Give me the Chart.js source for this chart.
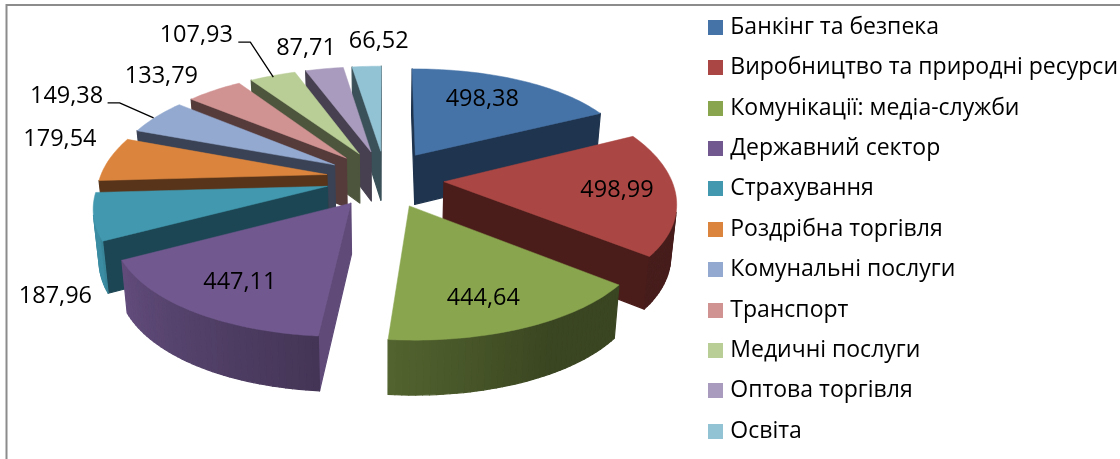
<!DOCTYPE html>
<html lang="uk">
<head>
<meta charset="utf-8">
<title>Розподіл за галузями</title>
<script src="https://cdn.jsdelivr.net/npm/chart.js@4"></script>
<style>
  html, body { margin: 0; padding: 0; background: #fff; overflow: hidden; }
  #wrap { width: 1120px; height: 459px; overflow: hidden; }
  #box { width: 1120px; height: 480px; position: relative; }
</style>
</head>
<body>
<div id="wrap"><div id="box"><canvas id="pieChart"></canvas></div></div>
<script>
const categories = ['Банкінг та безпека', 'Виробництво та природні ресурси', 'Комунікації: медіа-служби', 'Державний сектор', 'Страхування', 'Роздрібна торгівля', 'Комунальні послуги', 'Транспорт', 'Медичні послуги', 'Оптова торгівля', 'Освіта'];
const values = [498.38, 498.99, 444.64, 447.11, 187.96, 179.54, 149.38, 133.79, 107.93, 87.71, 66.52];
const topColors = ['#4572A7', '#AA4643', '#89A54E', '#71588F', '#4198AF', '#DB843D', '#93A9CF', '#D19392', '#B9CD96', '#A99BBD', '#92C3D4'];
const cutColors = ['#1F344E', '#4A1C1A', '#3A451F', '#5F4A78', '#1D4654', '#57341A', '#3A4255', '#563B3B', '#4D563C', '#464050', '#3B5159'];

// Смещения подписей от вершины сектора
const labelOffsets = [[67, -56], [173, 9], [74, 92], [-111, 79], [-272, 110], [-267, -35], [-268, -69], [-185, -82], [-163, -119], [-65, -104], [-2, -110]];
const leaderLines = {
  6: [[-227, -62], [-215, -62], [-181, -47]],
  8: [[-121, -112], [-109, -112], [-86, -77]]
};

// Параметры псевдо-3D проекции
const view = { cx: 385, cy: 178.7, rx: 233, ry: 110, bend: 16.4, explode: 0.26, depth: 50 };

function project(u, q, h) {
  const g = 0.975 + 0.15 * q + 0.035 * q * q;
  let x = view.cx + view.rx * u * g;
  let y = view.cy + view.ry * q + view.bend * q * q;
  if (h) {
    x = view.cx + (x - view.cx) * 0.98;
    y += view.depth * (1 + 0.08 * q);
  }
  return [x, y];
}

function mixColor(hex, t) {
  const n = parseInt(hex.slice(1), 16);
  const r = Math.round((n >> 16) * t);
  const g = Math.round(((n >> 8) & 255) * t);
  const b = Math.round((n & 255) * t);
  return 'rgb(' + r + ',' + g + ',' + b + ')';
}

// Яркость боковой стенки зависит от угла
function rimShade(deg) {
  if (deg <= 150) return 0.42;
  if (deg <= 185) return 0.42 + (deg - 150) / 35 * 0.18;
  if (deg <= 245) return 0.6 + (deg - 185) / 60 * 0.28;
  return 0.93;
}

function fillPoly(ctx, pts, color, width) {
  ctx.beginPath();
  pts.forEach((p, i) => i ? ctx.lineTo(p[0], p[1]) : ctx.moveTo(p[0], p[1]));
  ctx.closePath();
  ctx.fillStyle = color;
  ctx.strokeStyle = color;
  ctx.lineWidth = width;
  ctx.lineJoin = 'round';
  ctx.fill();
  ctx.stroke();
}

function polyArea(pts) {
  let s = 0;
  pts.forEach((p, i) => {
    const n = pts[(i + 1) % pts.length];
    s += p[0] * n[1] - n[0] * p[1];
  });
  return s;
}

function drawWall(ctx, a, b, color) {
  const q = [project(a[0], a[1], 0), project(b[0], b[1], 0), project(b[0], b[1], 1), project(a[0], a[1], 1)];
  if (polyArea(q) < 0) fillPoly(ctx, q, color, 1.2);
}

function sliceGeometry(arc) {
  const a0 = arc.startAngle + Math.PI / 2;
  const a1 = arc.endAngle + Math.PI / 2;
  const mid = (a0 + a1) / 2;
  const ou = view.explode * Math.sin(mid);
  const oq = -view.explode * Math.cos(mid);
  const rim = [];
  const steps = Math.max(4, Math.round((a1 - a0) * 40));
  for (let i = 0; i <= steps; i++) {
    const a = a0 + (a1 - a0) * i / steps;
    rim.push({ u: ou + Math.sin(a), q: oq - Math.cos(a), deg: a * 180 / Math.PI });
  }
  return { apex: [ou, oq], rim: rim };
}

function drawSlice(ctx, geo, i) {
  const apex = geo.apex;
  const rim = geo.rim;
  const first = rim[0];
  const last = rim[rim.length - 1];
  drawWall(ctx, apex, [first.u, first.q], cutColors[i]);
  drawWall(ctx, [last.u, last.q], apex, cutColors[i]);
  for (let k = 0; k < rim.length - 1; k++) {
    const deg = (rim[k].deg + rim[k + 1].deg) / 2;
    drawWall(ctx, [rim[k].u, rim[k].q], [rim[k + 1].u, rim[k + 1].q], mixColor(topColors[i], rimShade(deg)));
  }
  const top = [project(apex[0], apex[1], 0)].concat(rim.map(p => project(p.u, p.q, 0)));
  fillPoly(ctx, top, topColors[i], 0.5);
}

// Квадрат легенды как картинка, чтобы текст стоял ближе к нему
function makeSwatch(color) {
  const c = document.createElement('canvas');
  c.width = 15;
  c.height = 15;
  const g = c.getContext('2d');
  g.fillStyle = color;
  g.fillRect(0, 0, 15, 15);
  return c;
}

const pie3d = {
  id: 'pie3d',
  beforeDraw(chart) {
    // Рамка видна только сверху и слева
    const ctx = chart.ctx;
    ctx.save();
    ctx.strokeStyle = '#8C8C8C';
    ctx.lineWidth = 2;
    ctx.beginPath();
    ctx.moveTo(6.5, 480);
    ctx.lineTo(6.5, 5);
    ctx.lineTo(1120, 5);
    ctx.stroke();
    ctx.restore();
  },
  beforeDatasetDraw(chart, args) {
    const ctx = chart.ctx;
    const arcs = chart.getDatasetMeta(args.index).data;
    const items = arcs.map((arc, i) => ({ i: i, geo: sliceGeometry(arc) }));
    items.slice().sort((a, b) => a.geo.apex[1] - b.geo.apex[1]).forEach(it => drawSlice(ctx, it.geo, it.i));

    ctx.save();
    ctx.fillStyle = '#000';
    ctx.font = '23.5px "Open Sans"';
    ctx.textAlign = 'center';
    ctx.textBaseline = 'middle';
    items.forEach(it => {
      const p = project(it.geo.apex[0], it.geo.apex[1], 0);
      const off = labelOffsets[it.i];
      ctx.fillText(values[it.i].toFixed(2).replace('.', ','), p[0] + off[0], p[1] + off[1]);
      if (leaderLines[it.i]) {
        ctx.beginPath();
        leaderLines[it.i].forEach((l, k) => k ? ctx.lineTo(p[0] + l[0], p[1] + l[1]) : ctx.moveTo(p[0] + l[0], p[1] + l[1]));
        ctx.strokeStyle = '#000';
        ctx.lineWidth = 1.3;
        ctx.stroke();
      }
    });
    ctx.restore();
    return false;
  }
};

document.addEventListener('DOMContentLoaded', function() {
  const ctx = document.getElementById('pieChart').getContext('2d');
  new Chart(ctx, {
    type: 'pie',
    data: {
      labels: categories,
      datasets: [{ data: values, backgroundColor: topColors, borderWidth: 0 }]
    },
    options: {
      responsive: true,
      maintainAspectRatio: false,
      animation: false,
      layout: { padding: { top: -21.6, bottom: 0, right: -8 } },
      plugins: {
        tooltip: { enabled: false },
        legend: {
          position: 'right',
          labels: {
            usePointStyle: true,
            pointStyleWidth: 6,
            boxHeight: 15,
            padding: 17.4,
            color: '#000',
            font: { family: '"Open Sans"', size: 23 },
            generateLabels(chart) {
              return Chart.overrides.pie.plugins.legend.labels.generateLabels(chart).map((item, i) => {
                item.pointStyle = makeSwatch(topColors[i]);
                return item;
              });
            }
          }
        }
      }
    },
    plugins: [pie3d]
  });
});
</script>
</body>
</html>
